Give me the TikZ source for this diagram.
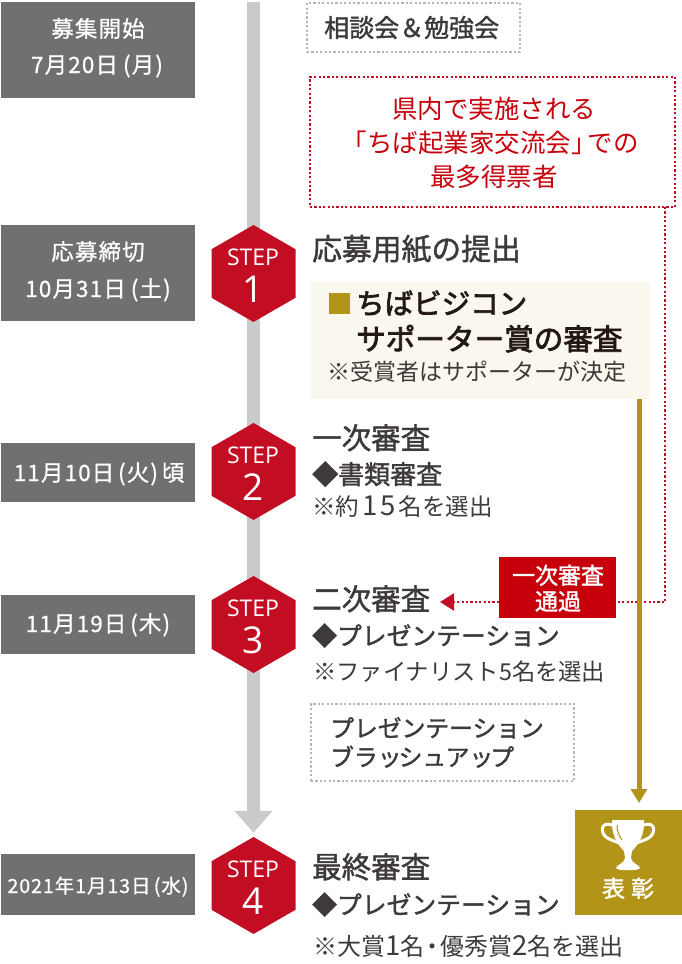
\documentclass[tikz,border=0pt]{standalone}
\usepackage{fontspec}
\usetikzlibrary{arrows.meta,shapes.geometric}
\setmainfont{Noto Sans CJK JP}
\newfontfamily\jpm[FakeBold=1.5]{Noto Sans CJK JP}
\newfontfamily\jph[FakeBold=2.5]{Noto Sans CJK JP}
\newfontfamily\jpd[FakeBold=0.8,LetterSpace=5]{Noto Sans CJK JP}
\newfontfamily\latinlight{Open Sans}
\newcommand\fsz[1]{\fontsize{#1pt}{#1pt}\selectfont}
\newcommand\bigdigit[1]{{\fsz{27.5}#1}}
\definecolor{dategray}{HTML}{717071}
\definecolor{railgray}{HTML}{C9CACA}
\definecolor{stepred}{HTML}{C30D23}
\definecolor{passred}{HTML}{C7000B}
\definecolor{gold}{HTML}{B29419}
\definecolor{cream}{HTML}{FAF7EF}
\definecolor{ink}{HTML}{3E3A39}
\definecolor{inkdark}{HTML}{231815}
\definecolor{dotgray}{HTML}{B5B5B6}
\tikzset{
  box/.style={inner sep=0pt,outer sep=0pt,anchor=north west},
  datebox/.style={box,fill=dategray},
  datetxt/.style={inner sep=0pt,text=white,anchor=base,font=\jpd\fsz{#1}},
  hexa/.style={regular polygon,regular polygon sides=6,shape border rotate=30,minimum size=97pt,inner sep=0pt,fill=stepred},
  steptxt/.style={inner sep=0pt,text=white,anchor=base,font=\latinlight\fsz{23}},
  stepnum/.style={inner sep=0pt,text=white,anchor=base,font=\latinlight\fsz{37}},
  head/.style={inner sep=0pt,anchor=base west,text=ink,font=\jpm\fsz{#1}},
  note/.style={inner sep=0pt,anchor=base west,text=ink,font=\fsz{#1}},
  redtxt/.style={inner sep=0pt,anchor=base,text=passred,font=\fsz{25.5}},
  dotline/.style={line width=2.2pt,dash pattern=on 2.2pt off 2.2pt},
}
\begin{document}
\begin{tikzpicture}[x=1pt,y=-1pt]
\useasboundingbox (0,0) rectangle (682,964);
% rail
\coordinate (railtop) at (253.5,2);
\node[hexa] (s4) at (253.5,885.5) {};
\draw[railgray,line width=13pt,-{Triangle[width=37pt,length=22pt]},shorten >=4pt] (railtop) -- (s4.corner 1);
% date boxes
\node[datebox,minimum width=194pt,minimum height=96pt] (d0) at (1,2) {};
\node[datebox,minimum width=194pt,minimum height=96pt] (d1) at (1,225) {};
\node[datebox,minimum width=194pt,minimum height=59pt] (d2) at (1,443) {};
\node[datebox,minimum width=194pt,minimum height=59pt] (d3) at (1,595) {};
\node[datebox,minimum width=194pt,minimum height=61pt] (d4) at (1,854) {};
\node[datetxt=22.5] (d0a) at (98,37) {募集開始};
\node[datetxt=22.5] (d0b) at (97,73) {7月20日\kern5pt(月)};
\node[datetxt=22.5] (d1a) at (98,260) {応募締切};
\node[datetxt=22.5] (d1b) at (98,297) {10月31日\kern5pt(土)};
\node[datetxt=22.5] (d2a) at (99,481) {11月10日\,(火)\,頃};
\node[datetxt=22.5] (d3a) at (98,632) {11月19日\,(木)};
\node[datetxt=19.5] (d4a) at (98,893) {2021年1月13日\,(水)};
% hexagons
\node[hexa] (s1) at (253.5,273.5) {};
\node[hexa] (s2) at (253.5,471.5) {};
\node[hexa] (s3) at (253.5,624.5) {};
\foreach \n/\d/\c in {s1/1/273.5,s2/2/471.5,s3/3/624.5,s4/4/885.5}{
  \node[steptxt] (\n t) at (253,\c-8) {STEP};
  \node[stepnum] (\n n) at (253,\c+29) {\d};
}
% dotted boxes
\node[box,draw=dotgray,dotline,minimum width=213pt,minimum height=49pt] (consult) at (307,3) {};
\node[head=25] (consultt) at (324,37) {相談会＆勉強会};
\node[box,draw=stepred,dotline,minimum width=365pt,minimum height=130pt] (vote) at (310,77) {};
\node[redtxt] (v1) at (494,118) {県内で実施される};
\node[redtxt] (v2) at (490,152) {「ちば起業家交流会」\kern-9pt での};
\node[redtxt] (v3) at (494,186) {最多得票者};
\node[box,draw=dotgray,dotline,minimum width=263pt,minimum height=77pt] (brush) at (311,704) {};
\node[head=23.8] (b1) at (330,737) {プレゼンテーション};
\node[head=23.8] (b2) at (330,766) {ブラッ\kern-3pt シュアッ\kern-3pt プ};
% cream box
\node[box,fill=cream,minimum width=339pt,minimum height=117pt] (cream) at (311,282) {};
\fill[gold] (329,293) rectangle (350,314);
\node[inner sep=0pt,anchor=base west,text=inkdark,font=\jph\fsz{28.5}] (c1) at (356,314) {ちばビジコン};
\node[inner sep=0pt,anchor=base west,text=inkdark,font=\jph\fsz{29.6}] (c2) at (356,350) {サポーター賞の審査};
\node[note=23] (c3) at (327,380) {※受賞者はサポーターが決定};
% headings
\node[head=29.8] (h1) at (312,260) {応募用紙の提出};
\node[head=29.5] (h2) at (312,449) {一次審査};
\node[head=26] (h2a) at (312,484) {◆書類審査};
\node[note=23.5] (h2b) at (312,515) {※約\kern3pt\bigdigit{1}\kern3pt\bigdigit{5}\kern3pt 名を選出};
\node[head=29.5] (h3) at (312,610) {二次審査};
\node[head=24.8] (h3a) at (312,645) {◆プレゼンテーション};
\node[note=23.3] (h3b) at (313,680) {※ファイナリスト5名を選出};
\node[head=29.5] (h4) at (312,878) {最終審査};
\node[head=24.8] (h4a) at (312,914) {◆プレゼンテーション};
\node[note=24] (h4b) at (313,955) {※大賞\bigdigit{1}名\kern-4pt ・\kern-4pt 優秀賞\bigdigit{2}名を選出};
% connectors
\node[box,fill=passred,minimum width=117pt,minimum height=61pt] (pass) at (499,557) {};
\coordinate (voteout) at (665,207);
\coordinate (h3arrow) at (440,602);
\draw[stepred,dotline] (voteout) |- (pass.east |- h3arrow);
\draw[stepred,dotline,-{Triangle[width=17pt,length=14pt,sep=0pt]}] (pass.west |- h3arrow) -- (h3arrow);
\node[box,fill=gold,minimum width=107pt,minimum height=105pt] (award) at (575,810) {};
\coordinate (creamout) at (639,399);
\draw[gold,line width=5pt,-{Triangle[width=16pt,length=14pt]},shorten >=7pt] (creamout) -- (creamout |- award.north);
\node[inner sep=0pt,anchor=base,text=white,font=\jpm\fsz{23}] (p1) at (558,584) {一次審査};
\node[inner sep=0pt,anchor=base,text=white,font=\jpm\fsz{23}] (p2) at (558,610) {通過};
% trophy
\fill[white] (612,820) -- (644,820) .. controls (645,835) and (638,845) .. (632,851) -- (631,858) .. controls (632,864) and (640,865) .. (640,868) .. controls (640,871) and (616,871) .. (616,868) .. controls (616,865) and (624,864) .. (625,858) -- (624,851) .. controls (618,845) and (611,835) .. (612,820) -- cycle;
\draw[white,line width=3pt] (612,825) .. controls (601,821) and (600,832) .. (606,837) .. controls (610,840) and (615,841) .. (619,843);
\draw[white,line width=3pt] (644,825) .. controls (655,821) and (656,832) .. (650,837) .. controls (646,840) and (641,841) .. (637,843);
\draw[gold,line width=1pt] (617,825) .. controls (617,831) and (619,836) .. (622,840);
\node[inner sep=0pt,anchor=base,text=white,font=\jpm\fsz{23}] (awardt) at (628,897) {表\hspace{6pt}彰};
\end{tikzpicture}
\end{document}
